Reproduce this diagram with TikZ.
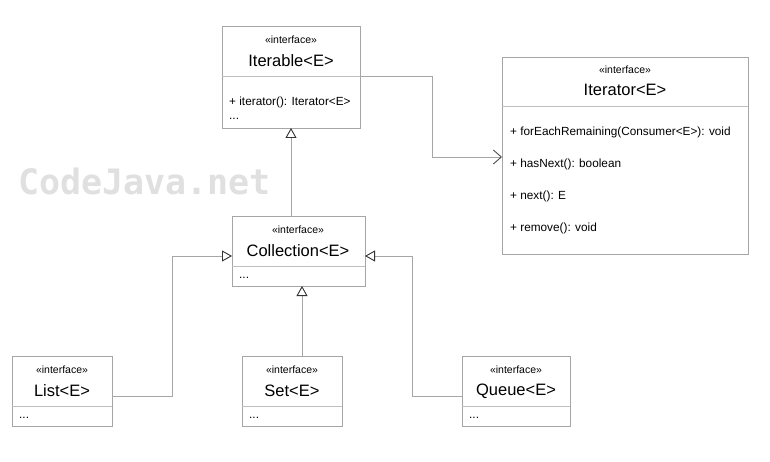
\documentclass[tikz,border=0pt]{standalone}
\usepackage{fontspec}
\setmainfont{Liberation Sans}
\usetikzlibrary{arrows.meta}
\begin{document}
\begin{tikzpicture}[x=1pt,y=-1pt,
 box/.style={draw=black!35,fill=white,line width=0.8pt},
 sep/.style={draw=black!25,line width=0.8pt},
 st/.style={font=\fontsize{10.5}{11}\selectfont,inner sep=0},
 nm/.style={font=\fontsize{16.5}{18}\selectfont,inner sep=0},
 mt/.style={font=\fontsize{11.8}{13}\selectfont,inner sep=0,anchor=west},
 ln/.style={draw=black!35,line width=0.8pt},
 gen/.style={ln,-{Triangle[open,width=11pt,length=10pt,fill=white,line width=0.9pt,color=black!80]}},
 dep/.style={ln,-{Straight Barb[width=14pt,length=8pt,line width=0.9pt,color=black!70]}}]
\useasboundingbox (0,0) rectangle (770,462);
\node[font=\bfseries\fontsize{35}{38}\selectfont,text=black!12,anchor=west,inner sep=0] (wm) at (18,181) {\fontspec{DejaVu Sans Mono}[BoldFont={DejaVu Sans Mono Bold}]\bfseries CodeJava.net};
% Iterable
\draw[box] (222,26) rectangle (360,128); \draw[sep] (222,76)--(360,76);
\coordinate (itb) at (291,128); \coordinate (itr) at (360,76);
\node[st] (s1) at (291,40) {«interface»};
\node[nm] (n1) at (291,61) {Iterable<E>};
\node[mt] (m1) at (229,102) {+ iterator(): Iterator<E>};
\node[mt] (d1) at (229,119) {...};
% Iterator
\draw[box] (502,57) rectangle (748,254); \draw[sep] (502,106)--(748,106);
\coordinate (ir) at (502,157);
\node[st] (s2) at (625,70) {«interface»};
\node[nm] (n2) at (625,90) {Iterator<E>};
\node[mt] (m2a) at (510,132) {+ forEachRemaining(Consumer<E>): void};
\node[mt] (m2b) at (510,164) {+ hasNext(): boolean};
\node[mt] (m2c) at (510,196) {+ next(): E};
\node[mt] (m2d) at (510,228) {+ remove(): void};
% Collection
\draw[box] (232,216) rectangle (365,286); \draw[sep] (232,266)--(365,266);
\coordinate (ct) at (291,216); \coordinate (cl) at (232,256); \coordinate (cr) at (365,256); \coordinate (cb) at (302,286);
\node[st] (s3) at (298,230) {«interface»};
\node[nm] (n3) at (298,251) {Collection<E>};
\node[mt] (d3) at (239,278) {...};
% List
\draw[box] (12,356) rectangle (112,426); \draw[sep] (12,406)--(112,406);
\coordinate (lr) at (112,396);
\node[st] (s4) at (62,370) {«interface»};
\node[nm] (n4) at (62,391) {List<E>};
\node[mt] (d4) at (19,418) {...};
% Set
\draw[box] (242,356) rectangle (342,426); \draw[sep] (242,406)--(342,406);
\coordinate (stt) at (302,356);
\node[st] (s5) at (292,370) {«interface»};
\node[nm] (n5) at (292,391) {Set<E>};
\node[mt] (d5) at (249,418) {...};
% Queue
\draw[box] (462,356) rectangle (570,426); \draw[sep] (462,406)--(570,406);
\coordinate (ql) at (462,396);
\node[st] (s6) at (516,370) {«interface»};
\node[nm] (n6) at (516,391) {Queue<E>};
\node[mt] (d6) at (469,418) {...};
% connectors
\draw[dep] (itr) -- (432,76) -- (432,157) -- (ir);
\draw[gen] (ct) -- (itb);
\draw[gen] (lr) -- (172,396) -- (172,256) -- (cl);
\draw[gen] (stt) -- (cb);
\draw[gen] (ql) -- (412,396) -- (412,256) -- (cr);
\end{tikzpicture}
\end{document}
